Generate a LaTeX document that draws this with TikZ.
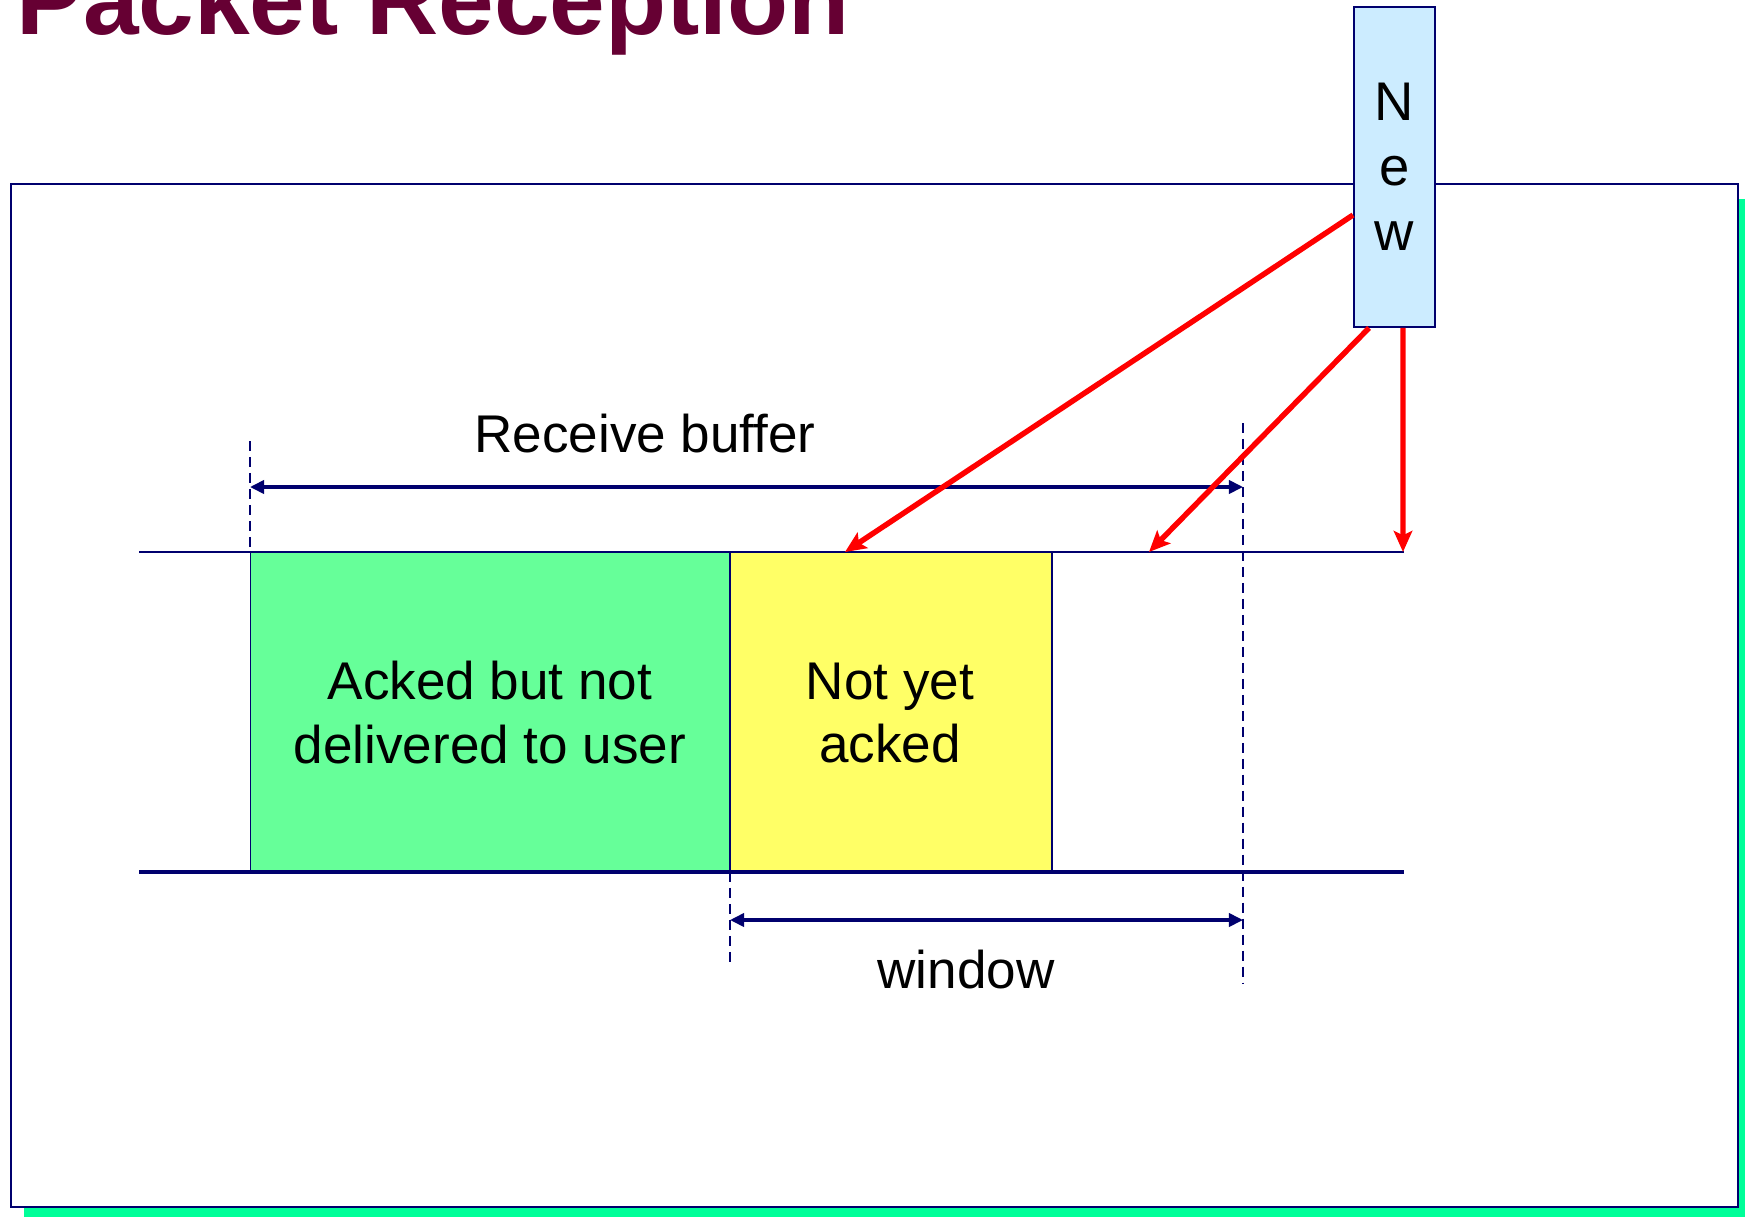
\documentclass[tikz,border=0pt]{standalone}
\usepackage{fontspec}
\setmainfont{Liberation Sans}
\usetikzlibrary{arrows.meta,calc}
\definecolor{navy}{RGB}{0,0,110}
\definecolor{titlered}{RGB}{102,0,51}
\definecolor{shadowgreen}{RGB}{0,255,153}
\definecolor{ackgreen}{RGB}{102,255,153}
\definecolor{pendyellow}{RGB}{255,255,102}
\definecolor{newblue}{RGB}{204,236,255}
\begin{document}
\begin{tikzpicture}[x=0.02cm,y=-0.02cm,
  lbl/.style={font=\fontsize{30.2pt}{36.4pt}\selectfont, align=center, text=black, inner sep=0pt},
  bufbox/.style={draw=navy, line width=0.6pt, minimum height=6.4cm, inner sep=0pt},
  guide/.style={navy, line width=0.85pt, dash pattern=on 5.7pt off 3.4pt},
  span/.style={navy, line width=1.9pt, {Triangle[length=8pt,width=7.5pt]}-{Triangle[length=8pt,width=7.5pt]}},
  incoming/.style={red, line width=3.1pt, -{Stealth[length=12pt,width=10.5pt,inset=2.5pt]}}]
\useasboundingbox (0,0) rectangle (1745,1217);
\clip (0,0) rectangle (1745,1217);

% slide title
\node[anchor=base west, inner sep=0pt, text=titlered,
      font=\fontsize{56.9pt}{60pt}\selectfont\bfseries] (title) at (16,34) {Packet Reception};

% content frame with its shadow
\fill[shadowgreen] (24,199) rectangle (1760,1230);
\draw[navy, line width=1.3pt, fill=white] (11,184) rectangle (1738,1207);

% buffer rails
\coordinate (topL) at (139,552);
\coordinate (topR) at (1404,552);
\coordinate (botL) at (139,872);
\coordinate (botR) at (1404,872);

% buffer contents
\node[bufbox, fill=ackgreen, minimum width=9.6cm] (acked) at (490,712) {};
\node[bufbox, fill=pendyellow, minimum width=6.44cm] (pending) at (891,712) {};
\node[lbl] (ackedtxt) at (490,713) {Acked but not\\delivered to user};
\node[lbl] (pendtxt) at (890,713) {Not yet\\acked};

\draw[navy, line width=1.1pt] (topL) -- (topR);
\draw[navy, line width=2pt] (botL) -- (botR);

% dashed guides
\coordinate (g1a) at (250,441);
\coordinate (g1b) at (250,552);
\coordinate (g2a) at (730,872);
\coordinate (g2b) at (730,964);
\coordinate (g3a) at (1243,423);
\coordinate (g3b) at (1243,984);
\draw[guide] (g1a) -- (g1b);
\draw[guide] (g2a) -- (g2b);
\draw[guide] (g3a) -- (g3b);

% receive buffer span
\coordinate (rbL) at (250,487);
\coordinate (rbR) at (1243,487);
\draw[span] (rbL) -- (rbR);
\node[lbl] (rbtxt) at (645,434) {Receive buffer};

% window span
\coordinate (wL) at (730,920);
\coordinate (wR) at (1243,920);
\draw[span] (wL) -- (wR);
\node[lbl] (wtxt) at (966,970) {window};

% new packet
\node[draw=navy, line width=1.1pt, fill=newblue, minimum width=1.62cm, minimum height=6.4cm,
      inner sep=0pt, font=\fontsize{31pt}{37pt}\selectfont, align=center] (new) at (1394.5,167) {N\\e\\w};

% possible arrival positions
\coordinate (t1) at (845,552);
\coordinate (t2) at (1149,552);
\coordinate (t3) at (1403,552);
\draw[incoming] ([yshift=-0.96cm]new.west) -- (t1);
\draw[incoming] ([xshift=0.32cm]new.south west) -- (t2);
\draw[incoming] ([xshift=0.17cm]new.south) -- (t3);
\end{tikzpicture}
\end{document}
